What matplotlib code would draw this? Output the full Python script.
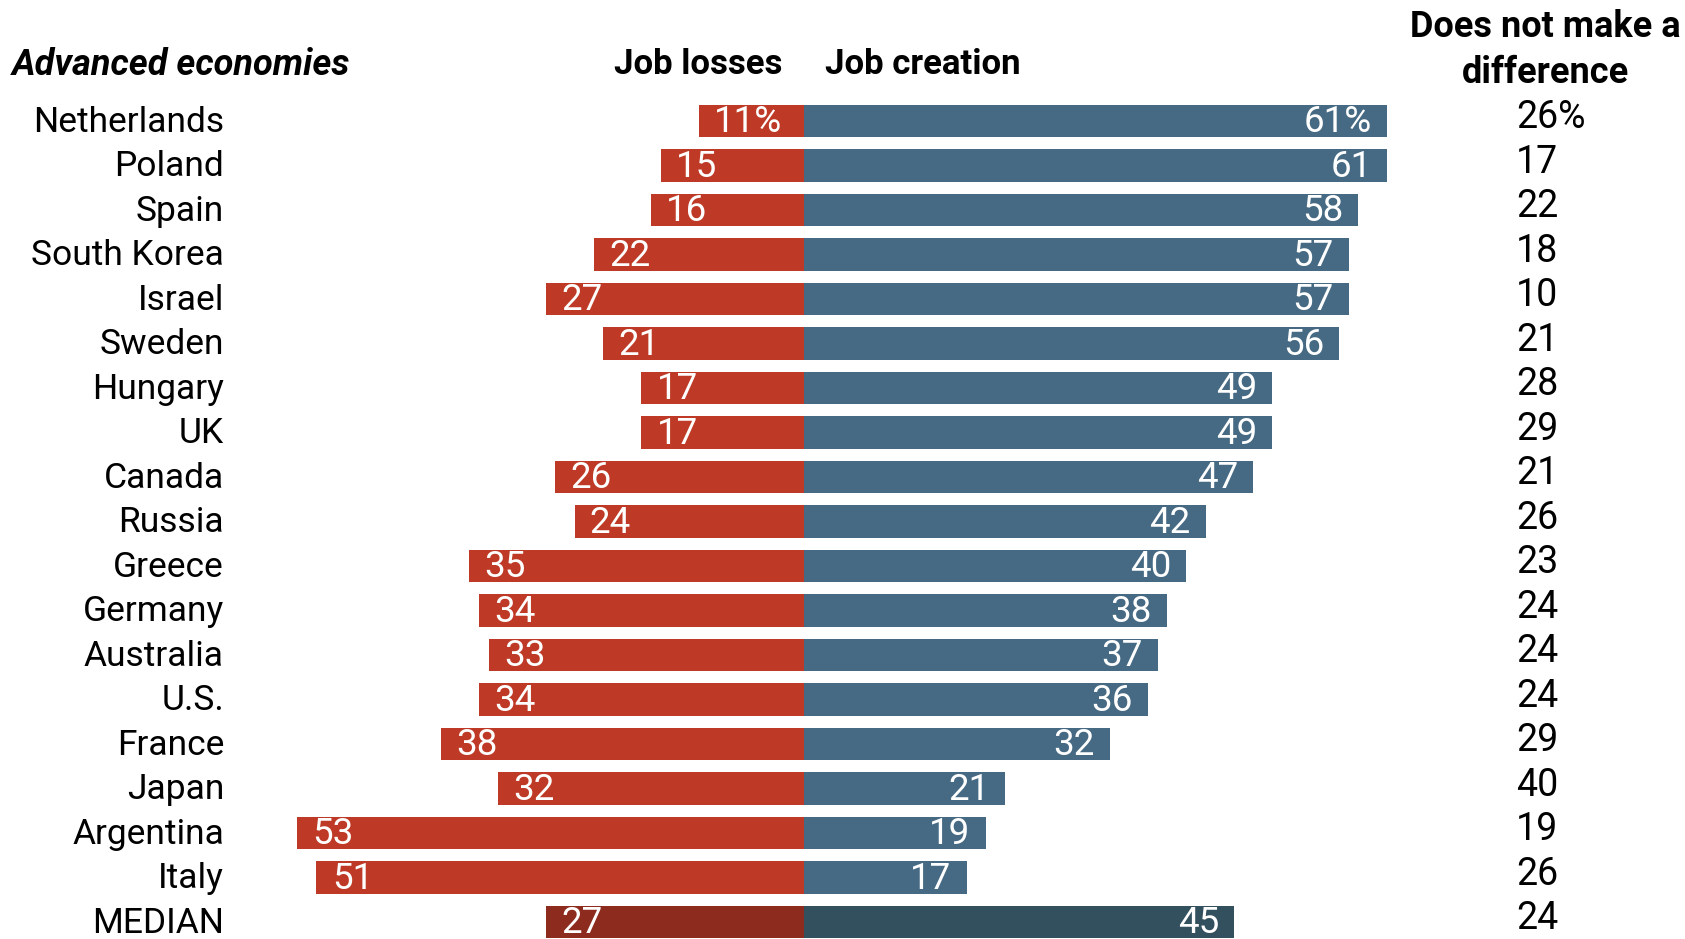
import matplotlib
matplotlib.use('Agg')
import matplotlib.pyplot as plt
from matplotlib.transforms import blended_transform_factory

countries = ["Netherlands", "Poland", "Spain", "South Korea", "Israel", "Sweden",
             "Hungary", "UK", "Canada", "Russia", "Greece", "Germany", "Australia",
             "U.S.", "France", "Japan", "Argentina", "Italy", "MEDIAN"]
job_losses = [11, 15, 16, 22, 27, 21, 17, 17, 26, 24, 35, 34, 33, 34, 38, 32, 53, 51, 27]
job_creation = [61, 61, 58, 57, 57, 56, 49, 49, 47, 42, 40, 38, 37, 36, 32, 21, 19, 17, 45]
no_difference = [26, 17, 22, 18, 10, 21, 28, 29, 21, 26, 23, 24, 24, 24, 29, 40, 19, 26, 24]

RED = "#BE3A26"
BLUE = "#466A83"
RED_MED = "#8C2B1E"
BLUE_MED = "#33505F"

plt.rcParams['font.family'] = ['Roboto', 'DejaVu Sans']

W, H = 1685, 939
fig = plt.figure(figsize=(W / 100, H / 100), dpi=100)
ax = fig.add_axes([0, 0, 1, 1])

# pixel layout: zero line at x=804, 9.56 px per point; rows start at y=121, 44.5 px apart
x0, scale = 804, 9.56
ax.set_xlim(-x0 / scale, (W - x0) / scale)
ax.set_ylim((H - 121) / 44.5, -121 / 44.5)
ax.axis('off')

n = len(countries)
for i in range(n):
    med = countries[i] == "MEDIAN"
    ax.barh(i, -job_losses[i], height=0.74, color=RED_MED if med else RED)
    ax.barh(i, job_creation[i], height=0.74, color=BLUE_MED if med else BLUE)
    suffix = "%" if i == 0 else ""
    ax.text(-job_losses[i] + 1.6, i + 0.03, f"{job_losses[i]}{suffix}", color="white",
            fontsize=26.5, ha="left", va="center")
    ax.text(job_creation[i] - 1.6, i + 0.03, f"{job_creation[i]}{suffix}", color="white",
            fontsize=26.5, ha="right", va="center")

xfig = blended_transform_factory(fig.transFigure, ax.transData)
for i in range(n):
    ax.text(224 / W, i + 0.03, countries[i], transform=xfig, fontsize=25.5,
            ha="right", va="center")
    suffix = "%" if i == 0 else ""
    ax.text(1516 / W, i - 0.07, f"{no_difference[i]}{suffix}", transform=xfig,
            fontsize=27, ha="left", va="center")

fig.text(12 / W, 1 - 65 / H, "Advanced economies", fontsize=26, fontweight="bold",
         fontstyle="italic", ha="left", va="center")
fig.text(782 / W, 1 - 65 / H, "Job losses", fontsize=25, fontweight="bold",
         ha="right", va="center")
fig.text(825 / W, 1 - 65 / H, "Job creation", fontsize=25, fontweight="bold",
         ha="left", va="center")
fig.text(1545 / W, 1 - 50 / H, "Does not make a\ndifference", fontsize=26,
         fontweight="bold", ha="center", va="center", linespacing=1.35)

fig.savefig("out.png", dpi=100)
